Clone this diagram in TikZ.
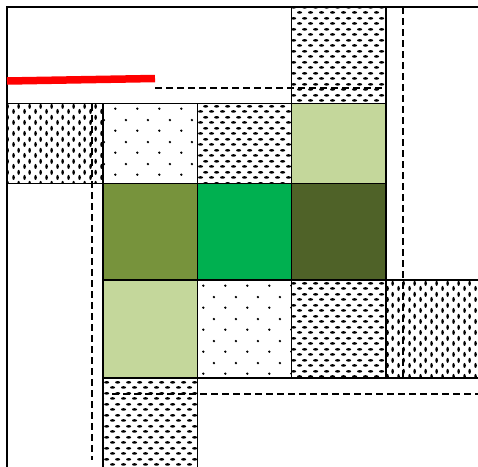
\documentclass[tikz,border=0pt]{standalone}
\usepackage{tikz}
\usetikzlibrary{patterns, patterns.meta}
\definecolor{OliveGreen}{HTML}{77933C}
\definecolor{BrightGreen}{HTML}{00B050}
\definecolor{DarkOlive}{HTML}{4F6228}
\definecolor{PaleGreen}{HTML}{C4D79B}

\tikzdeclarepattern{name=hdash, type=uncolored,
	bounding box={(0pt,0pt) and (11pt,11pt)}, tile size={(11pt,11pt)},
	code={\fill (2.75pt,2.75pt) ellipse [x radius=2.7pt, y radius=1.4pt];
		\fill (8.25pt,8.25pt) ellipse [x radius=2.7pt, y radius=1.4pt];}}
\tikzdeclarepattern{name=vdash, type=uncolored,
	bounding box={(0pt,0pt) and (11pt,11pt)}, tile size={(11pt,11pt)},
	code={\fill (2.75pt,2.75pt) ellipse [x radius=1.4pt, y radius=2.7pt];
		\fill (8.25pt,8.25pt) ellipse [x radius=1.4pt, y radius=2.7pt];}}
\tikzdeclarepattern{name=sparsedots, type=uncolored,
	bounding box={(0pt,0pt) and (22pt,22pt)}, tile size={(22pt,22pt)},
	code={\fill (5.5pt,5.5pt) circle [radius=1.3pt];
		\fill (16.5pt,16.5pt) circle [radius=1.3pt];}}

\tikzset{
	cell/.style={draw=black, line width=1.3pt},
	hcell/.style={cell, pattern=hdash, pattern color=black},
	vcell/.style={cell, pattern=vdash, pattern color=black},
	dcell/.style={cell, pattern=sparsedots, pattern color=black},
	guide/.style={black, line width=1.4pt, dash pattern=on 7pt off 4pt}
}

\begin{document}
\begin{tikzpicture}[x=1pt, y=-1pt]
	\useasboundingbox (0,0) rectangle (478,466);
	% marco exterior
	\draw[line width=1.3pt] (7,470) -- (7,7) -- (482,7);
	\draw[cell] (7,183.5) rectangle (103,470);
	% celdas con trama
	\foreach \xa/\ya/\xb/\yb in {291.5/7/386/103.5, 197.5/103.5/291.5/183.5, 291.5/280/386/378, 103/378/197.5/470}
		\draw[hcell] (\xa,\ya) rectangle (\xb,\yb);
	\foreach \xa/\ya/\xb/\yb in {7/103.5/103/183.5, 386/280/482/378}
		\draw[vcell] (\xa,\ya) rectangle (\xb,\yb);
	\foreach \xa/\ya/\xb/\yb in {103/103.5/197.5/183.5, 197.5/280/291.5/378}
		\draw[dcell] (\xa,\ya) rectangle (\xb,\yb);
	\draw[cell] (197.5,378) -- (482,378);
	% celdas verdes
	\foreach \xa/\ya/\xb/\yb in {291.5/103.5/386/183.5, 103/280/197.5/378}
		\draw[cell, fill=PaleGreen] (\xa,\ya) rectangle (\xb,\yb);
	\draw[cell, fill=OliveGreen] (103,183.5) rectangle (197.5,280);
	\draw[cell, fill=BrightGreen] (197.5,183.5) rectangle (291.5,280);
	\draw[cell, fill=DarkOlive] (291.5,183.5) rectangle (386,280);
	% lineas discontinuas
	\draw[guide] (155,88) -- (386,88);
	\draw[guide] (403,7) -- (403,378);
	\draw[guide] (112,394) -- (480,394);
	\draw[guide] (92,104) -- (92,460);
	\draw[red, line width=7.5pt] (7,81) -- (155,78.5);
\end{tikzpicture}
\end{document}
